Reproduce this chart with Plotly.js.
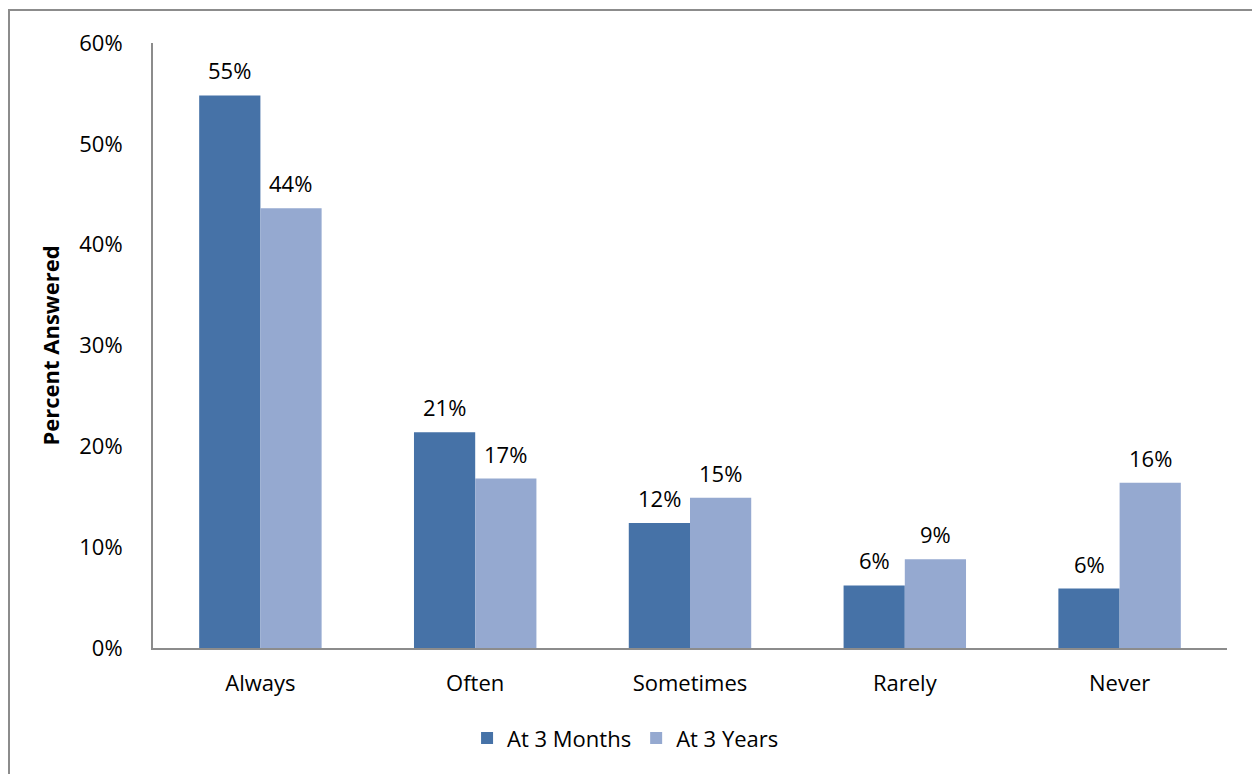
<!DOCTYPE html>
<html>
<head>
<meta charset="utf-8">
<script src="https://cdn.plot.ly/plotly-3.0.1.min.js"></script>
<style>
html, body { margin: 0; padding: 0; background: #fff; }
#wrap { position: relative; width: 1252px; height: 774px; }
#chart { position: absolute; left: 0; top: 0; width: 1252px; height: 774px; }
#frame { position: absolute; left: 8px; top: 9px; right: -5px; bottom: -5px; border-left: 2px solid #8c8c8c; border-top: 2px solid #8c8c8c; pointer-events: none; }
</style>
</head>
<body>
<div id="wrap">
<div id="chart"></div>
<div id="frame"></div>
</div>
<script>
const categories = ["Always", "Often", "Sometimes", "Rarely", "Never"];
const months3 = [0.548, 0.214, 0.124, 0.062, 0.059];
const years3 = [0.436, 0.168, 0.149, 0.088, 0.164];
const seriesNames = ["At 3 Months", "At 3 Years"];
const yTickVals = [0, 0.1, 0.2, 0.3, 0.4, 0.5, 0.6];

const FONT = "Open Sans, Noto Sans, sans-serif";
const FS = 22;

function barTrace(name, vals, color) {
  return {
    type: "bar",
    name: name,
    x: categories,
    y: vals,
    marker: { color: color, line: { width: 0 } },
    hoverinfo: "skip"
  };
}

const data = [
  barTrace(seriesNames[0], months3, "#4672a7"),
  barTrace(seriesNames[1], years3, "#95a9d0")
];

// value labels above each bar (offset half a bar width left/right of the category centre)
const annotations = [];
[[months3, -30.5], [years3, 30.5]].forEach(([vals, dx]) => {
  vals.forEach((v, i) => {
    annotations.push({
      x: categories[i], y: v, xref: "x", yref: "y",
      text: Math.round(v * 100) + "%",
      showarrow: false, xanchor: "center", yanchor: "bottom",
      xshift: dx, yshift: 9, borderpad: 0,
      font: { family: FONT, size: FS, color: "#000" }
    });
  });
});

const layout = {
  width: 1252,
  height: 774,
  margin: { l: 153, r: 25, t: 43, b: 126, autoexpand: false },
  paper_bgcolor: "#fff",
  plot_bgcolor: "#fff",
  font: { family: FONT, size: FS, color: "#000" },
  barmode: "group",
  bargap: 0.43,
  bargroupgap: 0,
  showlegend: true,
  annotations: annotations,
  legend: {
    orientation: "h",
    x: 0.44,
    xanchor: "center",
    y: -0.149,
    yanchor: "middle",
    font: { family: FONT, size: FS, color: "#000" },
    itemwidth: 30,
    traceorder: "normal"
  },
  xaxis: {
    type: "category",
    showgrid: false,
    showline: true,
    linecolor: "#8c8c8c",
    linewidth: 2,
    ticks: "",
    ticklabelstandoff: 15,
    tickfont: { family: FONT, size: FS, color: "#000" },
    zeroline: false
  },
  yaxis: {
    range: [0, 0.6],
    tickvals: yTickVals,
    tickformat: ".0%",
    showgrid: false,
    zeroline: false,
    showline: true,
    linecolor: "#8c8c8c",
    linewidth: 2,
    ticks: "",
    ticklabelstandoff: 24,
    tickfont: { family: FONT, size: FS, color: "#000" },
    title: { text: "Percent Answered", font: { family: FONT, size: 22, color: "#000", weight: "bold" }, standoff: 14 }
  }
};

Plotly.newPlot("chart", data, layout, { displayModeBar: false, staticPlot: true });
</script>
</body>
</html>
